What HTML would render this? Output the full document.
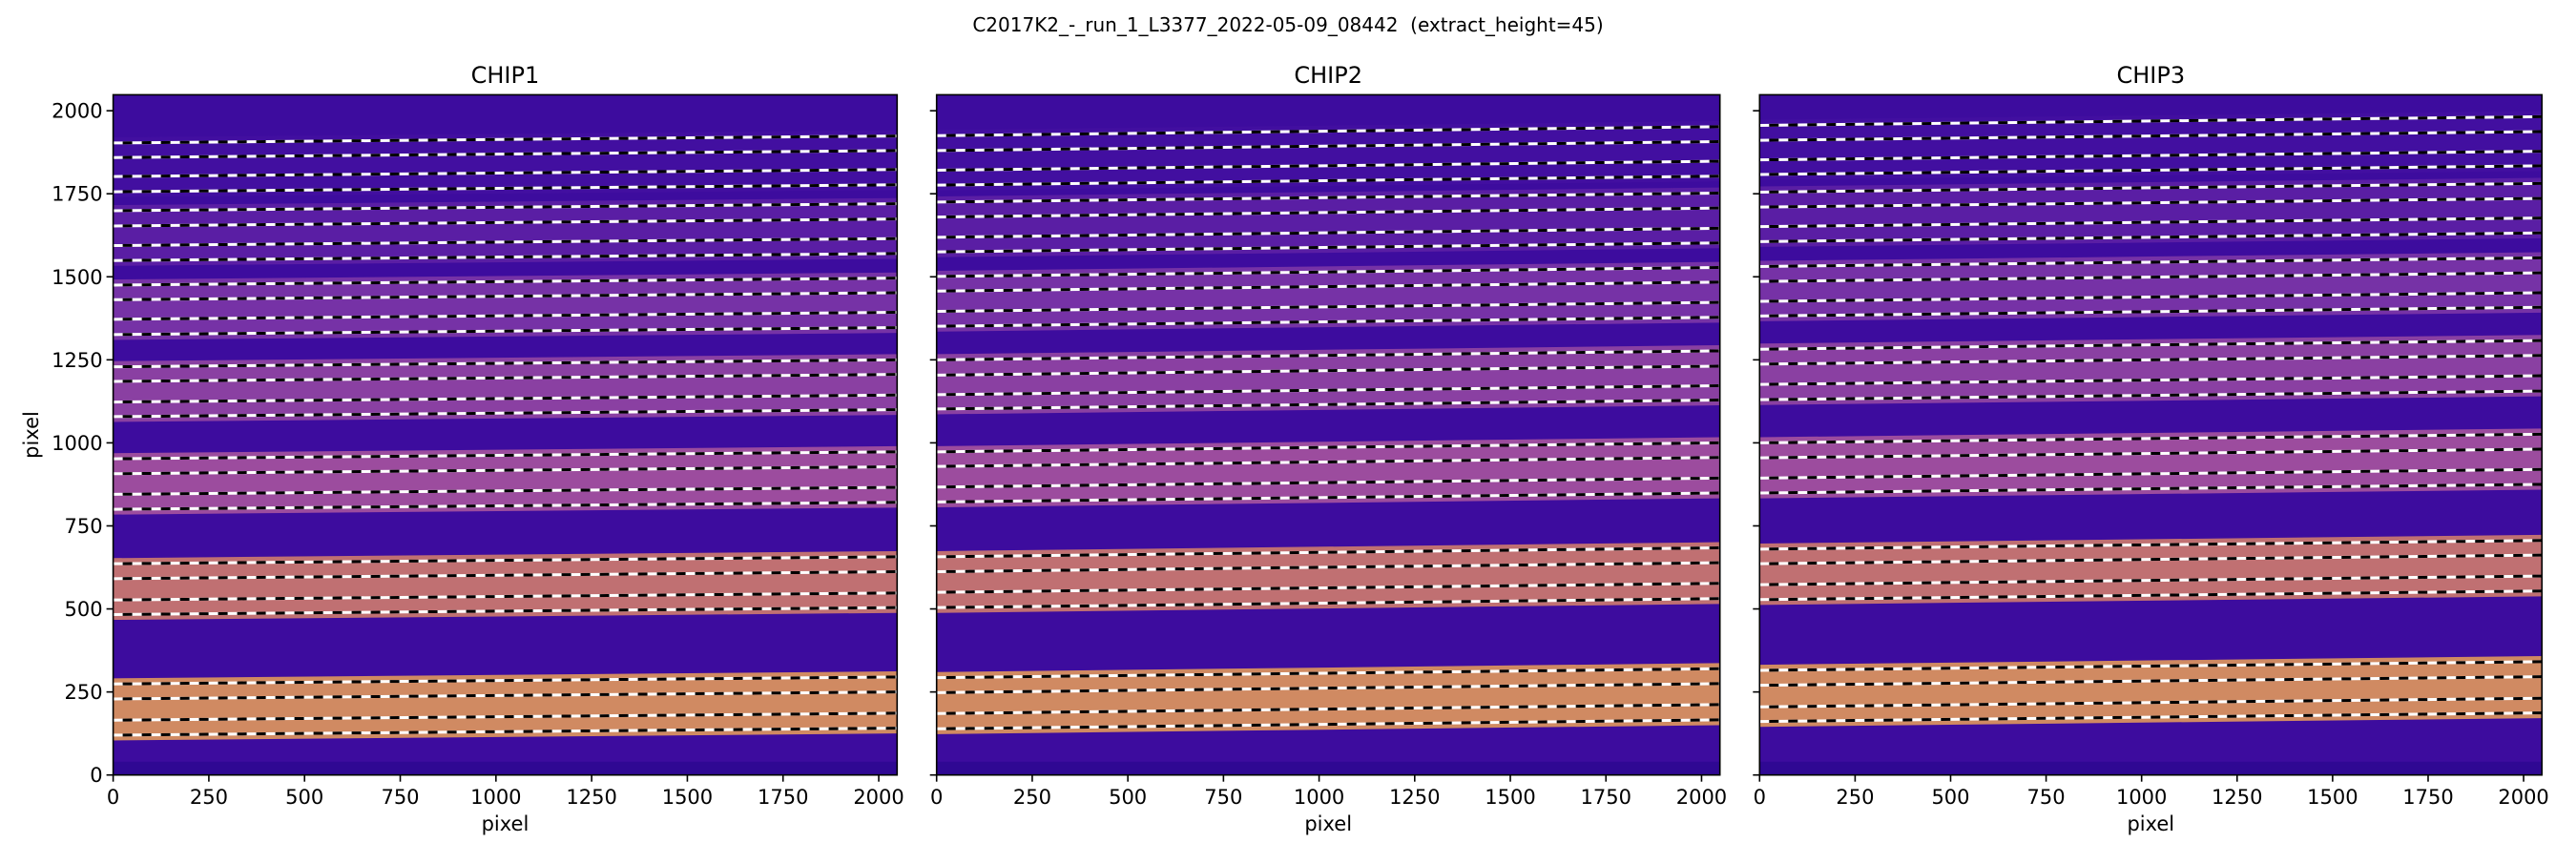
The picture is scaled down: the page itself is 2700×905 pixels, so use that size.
<!DOCTYPE html>
<html><head><meta charset="utf-8">
<style>
html,body{margin:0;padding:0;background:#fff;}
svg text{font-family:"DejaVu Sans","Liberation Sans",sans-serif;fill:#000;white-space:pre;}
</style></head>
<body>
<svg id="s" width="2700" height="900" xmlns="http://www.w3.org/2000/svg">
<rect width="2700" height="900" fill="#fff"/>
<text x="1350" y="33" font-size="20" text-anchor="middle">C2017K2_-_run_1_L3377_2022-05-09_08442  (extract_height=45)</text>
<text transform="translate(40,456) rotate(-90)" font-size="21" text-anchor="middle">pixel</text>
</svg>
<script>
(function(){
const S=document.getElementById('s');
const NS='http://www.w3.org/2000/svg';
function el(t,a,txt){const e=document.createElementNS(NS,t);for(const k in a)e.setAttribute(k,a[k]);if(txt!==undefined)e.textContent=txt;S.appendChild(e);return e;}
const yTop=99.4,yBot=812.7,ky=(yBot-yTop)/2048;
const colors=['#d08a62','#c07072','#9c4c9e','#8a40a2','#7632a6','#5a1ea4','#420fa0'];
const chips=[
 {name:'CHIP1',L:118.6,R:940.3,slope:21,lines:[120,165,229,274,483,527,591,636,800,845,907,952,1079,1123,1185,1229,1326,1372,1431,1475,1549,1594,1653,1699,1756,1802,1859,1903]},
 {name:'CHIP2',L:981.7,R:1802.7,slope:27,lines:[139,185,248,293,504,550,612,657,822,867,929,973,1102,1145,1204,1250,1351,1396,1457,1501,1575,1619,1680,1725,1776,1821,1880,1925]},
 {name:'CHIP3',L:1844.3,R:2664.3,slope:26,lines:[161,205,270,315,528,573,636,680,849,894,955,1000,1130,1176,1237,1282,1382,1426,1486,1531,1606,1651,1710,1755,1808,1852,1911,1956]}
];
chips.forEach((c,ci)=>{
 const kx=(c.R-c.L)/2048;
 const Y=d=>yBot-d*ky;
 el('rect',{x:c.L,y:yTop,width:c.R-c.L,height:yBot-yTop,fill:'#3d0c9e'});
 el('rect',{x:c.L,y:Y(40),width:c.R-c.L,height:40*ky,fill:'#2f0893'});
 for(let g=0;g<7;g++){
  const lo=c.lines[4*g]-16,hi=c.lines[4*g+3]+17;
  const s=c.slope;
  el('polygon',{points:`${c.L},${Y(lo)} ${c.R},${Y(lo+s)} ${c.R},${Y(hi+s)} ${c.L},${Y(hi)}`,fill:colors[g]});
 }
 c.lines.forEach(d=>{
  const a={x1:c.L,y1:Y(d),x2:c.R,y2:Y(d+c.slope),'stroke-width':3};
  el('line',Object.assign({stroke:'#fff'},a));
  el('line',Object.assign({stroke:'#000','stroke-dasharray':'10 10','stroke-dashoffset':'10'},a));
 });
 el('rect',{x:c.L,y:yTop,width:c.R-c.L,height:yBot-yTop,fill:'none',stroke:'#000','stroke-width':1.6});
 for(let v=0;v<=2000;v+=250){
  const x=c.L+v*kx;
  el('line',{x1:x,y1:yBot,x2:x,y2:yBot+7,stroke:'#000','stroke-width':1.6});
  el('text',{x:x,y:843,'font-size':21,'text-anchor':'middle'},String(v));
  const y=Y(v);
  el('line',{x1:c.L,y1:y,x2:c.L-7,y2:y,stroke:'#000','stroke-width':1.6});
  if(ci==0) el('text',{x:c.L-11,y:y+7.5,'font-size':21,'text-anchor':'end'},String(v));
 }
 el('text',{x:(c.L+c.R)/2,y:87,'font-size':24,'text-anchor':'middle'},c.name);
 el('text',{x:(c.L+c.R)/2,y:871,'font-size':21,'text-anchor':'middle'},'pixel');
});
})();
</script>
</body></html>
